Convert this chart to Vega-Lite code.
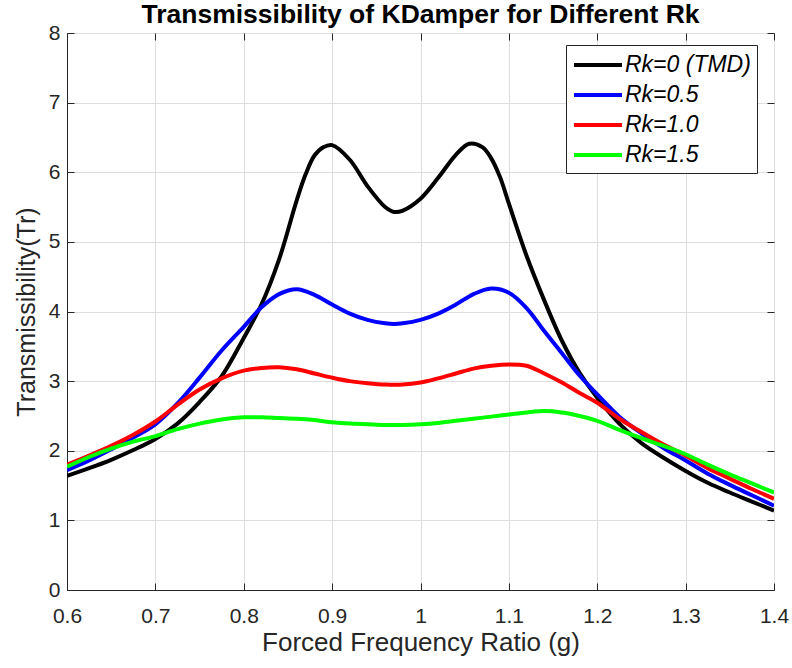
{
  "$schema": "https://vega.github.io/schema/vega-lite/v6.json",
  "autosize": "none",
  "width": 707,
  "height": 557,
  "padding": {"left": 67, "top": 33, "right": 18, "bottom": 78},
  "background": "white",
  "title": {
    "text": "Transmissibility of KDamper for Different Rk",
    "font": "Liberation Sans",
    "fontSize": 26.5,
    "fontWeight": "bold",
    "color": "#000000",
    "frame": "group",
    "offset": -6,
    "anchor": "middle"
  },
  "datasets": {
    "curves": [
      {"series": "Rk=0 (TMD)", "ratio": 0.6, "tr": 1.64},
      {"series": "Rk=0 (TMD)", "ratio": 0.625, "tr": 1.75},
      {"series": "Rk=0 (TMD)", "ratio": 0.65, "tr": 1.87},
      {"series": "Rk=0 (TMD)", "ratio": 0.675, "tr": 2.01},
      {"series": "Rk=0 (TMD)", "ratio": 0.7, "tr": 2.17},
      {"series": "Rk=0 (TMD)", "ratio": 0.725, "tr": 2.39},
      {"series": "Rk=0 (TMD)", "ratio": 0.75, "tr": 2.7},
      {"series": "Rk=0 (TMD)", "ratio": 0.775, "tr": 3.07},
      {"series": "Rk=0 (TMD)", "ratio": 0.8, "tr": 3.62},
      {"series": "Rk=0 (TMD)", "ratio": 0.82, "tr": 4.1},
      {"series": "Rk=0 (TMD)", "ratio": 0.84, "tr": 4.75},
      {"series": "Rk=0 (TMD)", "ratio": 0.86, "tr": 5.6},
      {"series": "Rk=0 (TMD)", "ratio": 0.87, "tr": 5.97},
      {"series": "Rk=0 (TMD)", "ratio": 0.88, "tr": 6.24},
      {"series": "Rk=0 (TMD)", "ratio": 0.89, "tr": 6.36},
      {"series": "Rk=0 (TMD)", "ratio": 0.9, "tr": 6.39},
      {"series": "Rk=0 (TMD)", "ratio": 0.92, "tr": 6.18},
      {"series": "Rk=0 (TMD)", "ratio": 0.94, "tr": 5.8},
      {"series": "Rk=0 (TMD)", "ratio": 0.96, "tr": 5.5},
      {"series": "Rk=0 (TMD)", "ratio": 0.97, "tr": 5.43},
      {"series": "Rk=0 (TMD)", "ratio": 0.98, "tr": 5.45},
      {"series": "Rk=0 (TMD)", "ratio": 1.0, "tr": 5.62},
      {"series": "Rk=0 (TMD)", "ratio": 1.02, "tr": 5.92},
      {"series": "Rk=0 (TMD)", "ratio": 1.04, "tr": 6.25},
      {"series": "Rk=0 (TMD)", "ratio": 1.055, "tr": 6.41},
      {"series": "Rk=0 (TMD)", "ratio": 1.07, "tr": 6.36},
      {"series": "Rk=0 (TMD)", "ratio": 1.08, "tr": 6.2},
      {"series": "Rk=0 (TMD)", "ratio": 1.09, "tr": 5.93},
      {"series": "Rk=0 (TMD)", "ratio": 1.1, "tr": 5.55},
      {"series": "Rk=0 (TMD)", "ratio": 1.12, "tr": 4.8},
      {"series": "Rk=0 (TMD)", "ratio": 1.14, "tr": 4.16},
      {"series": "Rk=0 (TMD)", "ratio": 1.16, "tr": 3.58},
      {"series": "Rk=0 (TMD)", "ratio": 1.18, "tr": 3.12},
      {"series": "Rk=0 (TMD)", "ratio": 1.2, "tr": 2.76},
      {"series": "Rk=0 (TMD)", "ratio": 1.225, "tr": 2.39},
      {"series": "Rk=0 (TMD)", "ratio": 1.25, "tr": 2.11},
      {"series": "Rk=0 (TMD)", "ratio": 1.275, "tr": 1.9},
      {"series": "Rk=0 (TMD)", "ratio": 1.3, "tr": 1.71},
      {"series": "Rk=0 (TMD)", "ratio": 1.325, "tr": 1.54},
      {"series": "Rk=0 (TMD)", "ratio": 1.35, "tr": 1.4},
      {"series": "Rk=0 (TMD)", "ratio": 1.375, "tr": 1.27},
      {"series": "Rk=0 (TMD)", "ratio": 1.4, "tr": 1.14},

      {"series": "Rk=0.5", "ratio": 0.6, "tr": 1.72},
      {"series": "Rk=0.5", "ratio": 0.625, "tr": 1.86},
      {"series": "Rk=0.5", "ratio": 0.65, "tr": 2.02},
      {"series": "Rk=0.5", "ratio": 0.675, "tr": 2.19},
      {"series": "Rk=0.5", "ratio": 0.7, "tr": 2.38},
      {"series": "Rk=0.5", "ratio": 0.725, "tr": 2.68},
      {"series": "Rk=0.5", "ratio": 0.75, "tr": 3.05},
      {"series": "Rk=0.5", "ratio": 0.775, "tr": 3.44},
      {"series": "Rk=0.5", "ratio": 0.8, "tr": 3.78},
      {"series": "Rk=0.5", "ratio": 0.82, "tr": 4.06},
      {"series": "Rk=0.5", "ratio": 0.84, "tr": 4.25},
      {"series": "Rk=0.5", "ratio": 0.86, "tr": 4.32},
      {"series": "Rk=0.5", "ratio": 0.88, "tr": 4.24},
      {"series": "Rk=0.5", "ratio": 0.9, "tr": 4.1},
      {"series": "Rk=0.5", "ratio": 0.92, "tr": 3.97},
      {"series": "Rk=0.5", "ratio": 0.94, "tr": 3.88},
      {"series": "Rk=0.5", "ratio": 0.96, "tr": 3.83},
      {"series": "Rk=0.5", "ratio": 0.97, "tr": 3.82},
      {"series": "Rk=0.5", "ratio": 0.98, "tr": 3.83},
      {"series": "Rk=0.5", "ratio": 1.0, "tr": 3.88},
      {"series": "Rk=0.5", "ratio": 1.02, "tr": 3.97},
      {"series": "Rk=0.5", "ratio": 1.04, "tr": 4.1},
      {"series": "Rk=0.5", "ratio": 1.06, "tr": 4.25},
      {"series": "Rk=0.5", "ratio": 1.08, "tr": 4.33},
      {"series": "Rk=0.5", "ratio": 1.1, "tr": 4.27},
      {"series": "Rk=0.5", "ratio": 1.12, "tr": 4.05},
      {"series": "Rk=0.5", "ratio": 1.14, "tr": 3.72},
      {"series": "Rk=0.5", "ratio": 1.16, "tr": 3.4},
      {"series": "Rk=0.5", "ratio": 1.18, "tr": 3.08},
      {"series": "Rk=0.5", "ratio": 1.2, "tr": 2.81},
      {"series": "Rk=0.5", "ratio": 1.225, "tr": 2.49},
      {"series": "Rk=0.5", "ratio": 1.25, "tr": 2.25},
      {"series": "Rk=0.5", "ratio": 1.275, "tr": 2.04},
      {"series": "Rk=0.5", "ratio": 1.3, "tr": 1.86},
      {"series": "Rk=0.5", "ratio": 1.325, "tr": 1.67},
      {"series": "Rk=0.5", "ratio": 1.35, "tr": 1.51},
      {"series": "Rk=0.5", "ratio": 1.375, "tr": 1.36},
      {"series": "Rk=0.5", "ratio": 1.4, "tr": 1.21},

      {"series": "Rk=1.0", "ratio": 0.6, "tr": 1.8},
      {"series": "Rk=1.0", "ratio": 0.625, "tr": 1.93},
      {"series": "Rk=1.0", "ratio": 0.65, "tr": 2.07},
      {"series": "Rk=1.0", "ratio": 0.675, "tr": 2.23},
      {"series": "Rk=1.0", "ratio": 0.7, "tr": 2.42},
      {"series": "Rk=1.0", "ratio": 0.725, "tr": 2.66},
      {"series": "Rk=1.0", "ratio": 0.75, "tr": 2.88},
      {"series": "Rk=1.0", "ratio": 0.775, "tr": 3.04},
      {"series": "Rk=1.0", "ratio": 0.8, "tr": 3.15},
      {"series": "Rk=1.0", "ratio": 0.82, "tr": 3.19},
      {"series": "Rk=1.0", "ratio": 0.84, "tr": 3.2},
      {"series": "Rk=1.0", "ratio": 0.86, "tr": 3.17},
      {"series": "Rk=1.0", "ratio": 0.88, "tr": 3.11},
      {"series": "Rk=1.0", "ratio": 0.9, "tr": 3.05},
      {"series": "Rk=1.0", "ratio": 0.92, "tr": 3.0},
      {"series": "Rk=1.0", "ratio": 0.94, "tr": 2.97},
      {"series": "Rk=1.0", "ratio": 0.96, "tr": 2.95},
      {"series": "Rk=1.0", "ratio": 0.98, "tr": 2.95},
      {"series": "Rk=1.0", "ratio": 1.0, "tr": 2.98},
      {"series": "Rk=1.0", "ratio": 1.02, "tr": 3.04},
      {"series": "Rk=1.0", "ratio": 1.04, "tr": 3.11},
      {"series": "Rk=1.0", "ratio": 1.06, "tr": 3.18},
      {"series": "Rk=1.0", "ratio": 1.08, "tr": 3.22},
      {"series": "Rk=1.0", "ratio": 1.1, "tr": 3.24},
      {"series": "Rk=1.0", "ratio": 1.12, "tr": 3.22},
      {"series": "Rk=1.0", "ratio": 1.14, "tr": 3.11},
      {"series": "Rk=1.0", "ratio": 1.16, "tr": 2.98},
      {"series": "Rk=1.0", "ratio": 1.18, "tr": 2.83},
      {"series": "Rk=1.0", "ratio": 1.2, "tr": 2.69},
      {"series": "Rk=1.0", "ratio": 1.225, "tr": 2.46},
      {"series": "Rk=1.0", "ratio": 1.25, "tr": 2.27},
      {"series": "Rk=1.0", "ratio": 1.275, "tr": 2.09},
      {"series": "Rk=1.0", "ratio": 1.3, "tr": 1.93},
      {"series": "Rk=1.0", "ratio": 1.325, "tr": 1.75},
      {"series": "Rk=1.0", "ratio": 1.35, "tr": 1.6},
      {"series": "Rk=1.0", "ratio": 1.375, "tr": 1.45},
      {"series": "Rk=1.0", "ratio": 1.4, "tr": 1.31},

      {"series": "Rk=1.5", "ratio": 0.6, "tr": 1.77},
      {"series": "Rk=1.5", "ratio": 0.625, "tr": 1.91},
      {"series": "Rk=1.5", "ratio": 0.65, "tr": 2.03},
      {"series": "Rk=1.5", "ratio": 0.675, "tr": 2.13},
      {"series": "Rk=1.5", "ratio": 0.7, "tr": 2.21},
      {"series": "Rk=1.5", "ratio": 0.725, "tr": 2.31},
      {"series": "Rk=1.5", "ratio": 0.75, "tr": 2.39},
      {"series": "Rk=1.5", "ratio": 0.775, "tr": 2.45},
      {"series": "Rk=1.5", "ratio": 0.8, "tr": 2.48},
      {"series": "Rk=1.5", "ratio": 0.82, "tr": 2.48},
      {"series": "Rk=1.5", "ratio": 0.84, "tr": 2.47},
      {"series": "Rk=1.5", "ratio": 0.86, "tr": 2.46},
      {"series": "Rk=1.5", "ratio": 0.88, "tr": 2.44},
      {"series": "Rk=1.5", "ratio": 0.9, "tr": 2.41},
      {"series": "Rk=1.5", "ratio": 0.92, "tr": 2.39},
      {"series": "Rk=1.5", "ratio": 0.94, "tr": 2.38},
      {"series": "Rk=1.5", "ratio": 0.96, "tr": 2.37},
      {"series": "Rk=1.5", "ratio": 0.98, "tr": 2.37},
      {"series": "Rk=1.5", "ratio": 1.0, "tr": 2.38},
      {"series": "Rk=1.5", "ratio": 1.02, "tr": 2.4},
      {"series": "Rk=1.5", "ratio": 1.04, "tr": 2.43},
      {"series": "Rk=1.5", "ratio": 1.06, "tr": 2.46},
      {"series": "Rk=1.5", "ratio": 1.08, "tr": 2.49},
      {"series": "Rk=1.5", "ratio": 1.1, "tr": 2.52},
      {"series": "Rk=1.5", "ratio": 1.12, "tr": 2.55},
      {"series": "Rk=1.5", "ratio": 1.14, "tr": 2.57},
      {"series": "Rk=1.5", "ratio": 1.16, "tr": 2.55},
      {"series": "Rk=1.5", "ratio": 1.18, "tr": 2.5},
      {"series": "Rk=1.5", "ratio": 1.2, "tr": 2.43},
      {"series": "Rk=1.5", "ratio": 1.225, "tr": 2.3},
      {"series": "Rk=1.5", "ratio": 1.25, "tr": 2.18},
      {"series": "Rk=1.5", "ratio": 1.275, "tr": 2.07},
      {"series": "Rk=1.5", "ratio": 1.3, "tr": 1.95},
      {"series": "Rk=1.5", "ratio": 1.325, "tr": 1.8},
      {"series": "Rk=1.5", "ratio": 1.35, "tr": 1.66},
      {"series": "Rk=1.5", "ratio": 1.375, "tr": 1.53},
      {"series": "Rk=1.5", "ratio": 1.4, "tr": 1.4}
    ]
  },
  "data": {"name": "curves"},
  "layer": [
    {
      "mark": {"type": "line", "strokeWidth": 4, "interpolate": "catmull-rom", "clip": true},
      "encoding": {
        "x": {
          "field": "ratio",
          "type": "quantitative",
          "scale": {"domain": [0.6, 1.4], "nice": false, "zero": false},
          "axis": {
            "title": "Forced Frequency Ratio (g)",
            "values": [0.6, 0.7, 0.8, 0.9, 1.0, 1.1, 1.2, 1.3, 1.4],
            "format": "~g",
            "labelFlush": false,
            "labelPadding": 22,
            "titlePadding": 3,
            "titleFontSize": 26
          }
        },
        "y": {
          "field": "tr",
          "type": "quantitative",
          "scale": {"domain": [0, 8], "nice": false},
          "axis": {
            "title": "Transmissibility(Tr)",
            "values": [0, 1, 2, 3, 4, 5, 6, 7, 8],
            "labelFlush": false,
            "labelPadding": 14,
            "titlePadding": 9
          }
        },
        "color": {
          "field": "series",
          "type": "nominal",
          "sort": ["Rk=0 (TMD)", "Rk=0.5", "Rk=1.0", "Rk=1.5"],
          "scale": {
            "domain": ["Rk=0 (TMD)", "Rk=0.5", "Rk=1.0", "Rk=1.5"],
            "range": ["#000000", "#0000ff", "#ff0000", "#00ff00"]
          },
          "legend": {
            "title": null,
            "orient": "none",
            "legendX": 499,
            "legendY": 12,
            "strokeColor": "#262626",
            "fillColor": "white",
            "padding": 6,
            "symbolType": "M-2,0H2",
            "symbolSize": 576,
            "symbolStrokeWidth": 4,
            "symbolOffset": 12,
            "labelOffset": 13,
            "labelFont": "Liberation Sans",
            "labelFontSize": 23,
            "labelFontStyle": "italic",
            "labelColor": "#000000",
            "labelLimit": 300,
            "rowPadding": 4
          }
        }
      }
    },
    {
      "mark": {"type": "line", "opacity": 0, "strokeWidth": 0},
      "encoding": {
        "x": {
          "field": "ratio",
          "type": "quantitative",
          "axis": {
            "orient": "top",
            "values": [0.6, 0.7, 0.8, 0.9, 1.0, 1.1, 1.2, 1.3, 1.4],
            "labels": false,
            "title": null,
            "grid": false,
            "domain": false
          }
        },
        "y": {
          "field": "tr",
          "type": "quantitative",
          "axis": {
            "orient": "right",
            "values": [0, 1, 2, 3, 4, 5, 6, 7, 8],
            "labels": false,
            "title": null,
            "grid": false,
            "domain": false
          }
        },
        "detail": {"field": "series", "type": "nominal"}
      }
    }
  ],
  "resolve": {"axis": {"x": "independent", "y": "independent"}},
  "config": {
    "view": {"stroke": "#262626", "strokeWidth": 1},
    "axis": {
      "labelFont": "Liberation Sans",
      "labelFontSize": 21,
      "labelColor": "#262626",
      "titleFont": "Liberation Sans",
      "titleFontSize": 25,
      "titleFontWeight": "normal",
      "titleColor": "#262626",
      "domainColor": "#262626",
      "domainWidth": 1,
      "tickColor": "#262626",
      "tickSize": -7,
      "gridColor": "#dedede",
      "gridWidth": 1
    }
  }
}
